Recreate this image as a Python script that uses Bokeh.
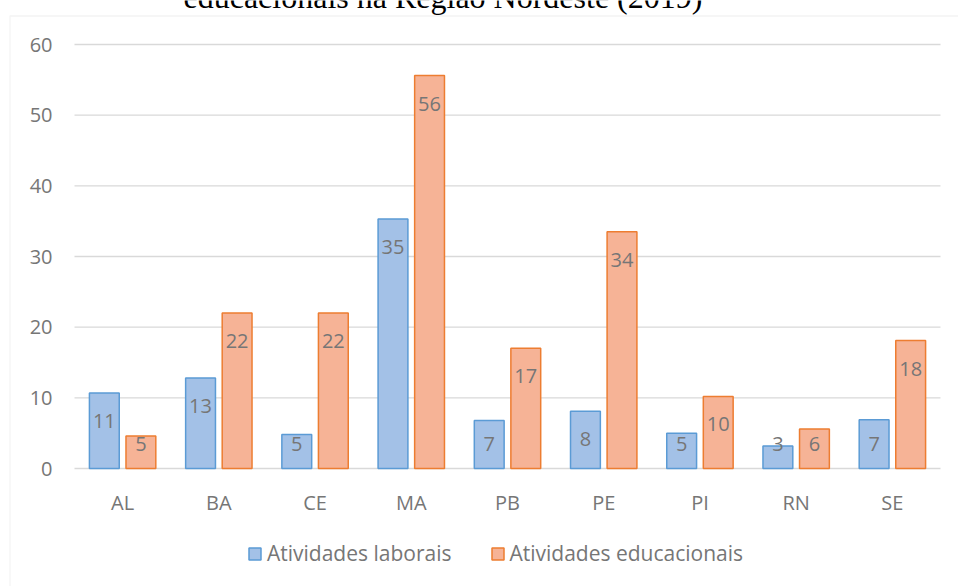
import numpy as np
from bokeh.plotting import figure
from bokeh.models import (ColumnDataSource, Range1d, Legend, LegendItem, Label,
                          BoxAnnotation, FixedTicker)
from bokeh.core.properties import value
from bokeh.embed import file_html
from bokeh.resources import INLINE

# ---- data ----
states = ["AL", "BA", "CE", "MA", "PB", "PE", "PI", "RN", "SE"]
laborais = [10.7, 12.8, 4.8, 35.3, 6.8, 8.1, 5.0, 3.2, 6.9]
educacionais = [4.6, 22.0, 22.0, 55.6, 17.0, 33.5, 10.2, 5.6, 18.1]
series_names = ["Atividades laborais", "Atividades educacionais"]
title_text = "educacionais na Região Nordeste (2019)"
y_ticks = [0, 10, 20, 30, 40, 50, 60]

# ---- layout constants (pixels) ----
W, H = 958, 586
PLOT_L, PLOT_R, PLOT_T, PLOT_B = 74, 940, 44, 468
Y_MAX = 60
n = len(states)
u = (PLOT_R - PLOT_L) / n          # px per category
k = (PLOT_B - PLOT_T) / Y_MAX      # px per unit
sx2d = lambda sx: (sx - PLOT_L) / u
sy2d = lambda sy: (PLOT_B - sy) / k

BLUE_FILL, BLUE_LINE = "#a3c1e7", "#5b9bd5"
ORANGE_FILL, ORANGE_LINE = "#f6b396", "#ed7d31"
TXT = "#767676"
GRID = "#d9d9d9"
FONT = "Open Sans"
OFF = 0.19
BW = 0.31

lab = np.array(laborais)
edu = np.array(educacionais)
xc = np.arange(n) + 0.5
src = ColumnDataSource(dict(
    xl=xc - OFF, xe=xc + OFF, lab=lab, edu=edu,
    lab_txt=[str(int(round(v))) for v in lab],
    edu_txt=[str(int(round(v))) for v in edu],
    lab_y=np.maximum(lab - 28 / k, 25 / k),
    edu_y=np.maximum(edu - 28 / k, 25 / k),
))

p = figure(width=W, height=H,
           x_range=Range1d(sx2d(0), sx2d(W)), y_range=Range1d(sy2d(H), sy2d(0)),
           output_backend="svg", toolbar_location=None,
           min_border_left=0, min_border_right=0, min_border_top=0, min_border_bottom=0)
p.outline_line_color = None
p.background_fill_color = "white"
p.border_fill_color = "white"
p.xgrid.visible = False
p.ygrid.visible = False

# gridlines over the plot area only
p.segment(x0=0, x1=n, y0=y_ticks, y1=y_ticks, line_color=GRID, line_width=1.3)

r1 = p.vbar(x="xl", top="lab", width=BW, source=src,
            fill_color=BLUE_FILL, line_color=BLUE_LINE, line_width=1.5)
r2 = p.vbar(x="xe", top="edu", width=BW, source=src,
            fill_color=ORANGE_FILL, line_color=ORANGE_LINE, line_width=1.5)

p.text(x="xl", y="lab_y", text="lab_txt", source=src,
       text_align="center", text_baseline="middle", text_font=value(FONT),
       text_font_size="20px", text_color=TXT)
p.text(x="xe", y="edu_y", text="edu_txt", source=src,
       text_align="center", text_baseline="middle", text_font=value(FONT),
       text_font_size="20px", text_color=TXT)

# axes drawn at fixed locations inside the canvas
p.yaxis.fixed_location = 0
p.xaxis.fixed_location = 0
p.yaxis.ticker = FixedTicker(ticks=y_ticks)
p.xaxis.ticker = FixedTicker(ticks=list(xc))
p.xaxis.major_label_overrides = {float(x): s for x, s in zip(xc, states)}
for ax in (p.xaxis, p.yaxis):
    ax.axis_line_color = None
    ax.major_tick_line_color = None
    ax.minor_tick_line_color = None
    ax.major_tick_out = 0
    ax.major_tick_in = 0
    ax.minor_tick_out = 0
    ax.minor_tick_in = 0
    ax.major_label_text_font = FONT
    ax.major_label_text_font_size = "20px"
    ax.major_label_text_color = TXT
p.yaxis.major_label_standoff = 22
p.xaxis.major_label_standoff = 20

# legend
legend = Legend(items=[LegendItem(label=series_names[0], renderers=[r1]),
                       LegendItem(label=series_names[1], renderers=[r2])],
                orientation="horizontal", location=(247, 19),
                glyph_width=15, glyph_height=15, label_standoff=5, spacing=38,
                padding=0, margin=0, border_line_color=None, background_fill_alpha=0,
                label_text_font=FONT, label_text_font_size="21px", label_text_color=TXT)
p.add_layout(legend, "center")

# outer chart border (only top and left edges visible)
p.add_layout(BoxAnnotation(left=sx2d(9.5), right=sx2d(W + 50),
                           top=sy2d(15.5), bottom=sy2d(H + 50),
                           fill_alpha=0, line_color=GRID, line_width=1.3))

# title (partly cut off at the top)
p.add_layout(Label(x=sx2d(183), y=sy2d(-4), text=title_text,
                   text_font="Liberation Serif", text_font_size="32px",
                   text_color="#000000", text_baseline="alphabetic", text_align="left"))

open("out.html", "w").write(file_html(p, INLINE))
